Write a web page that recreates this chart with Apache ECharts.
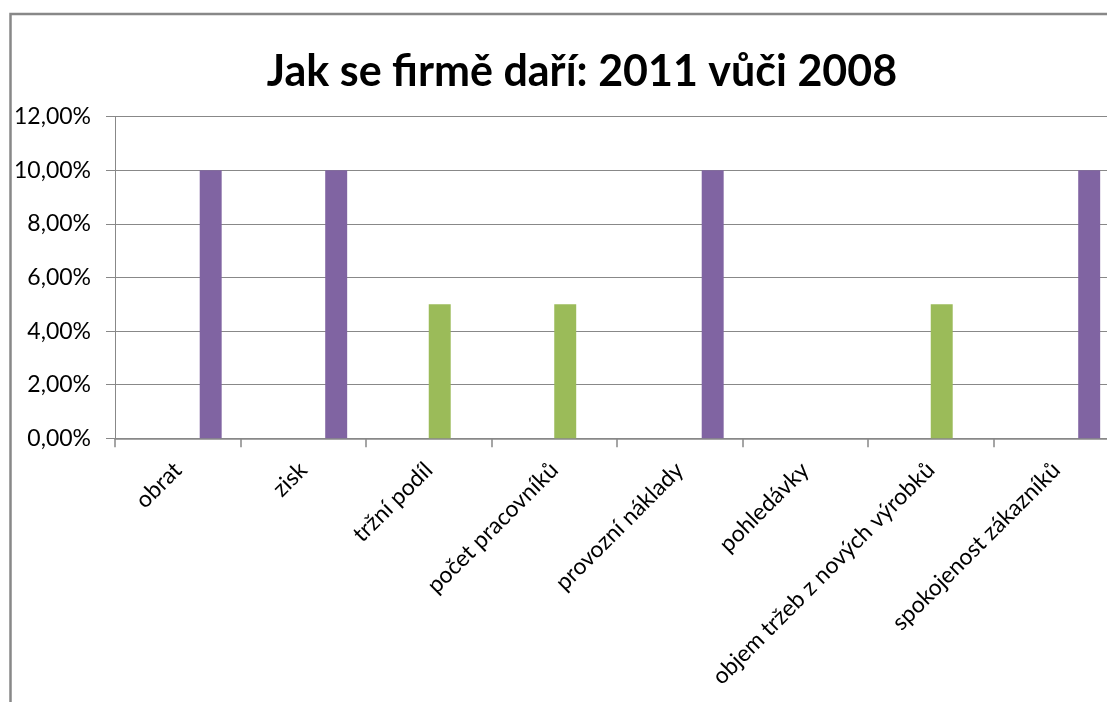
<!DOCTYPE html>
<html>
<head>
<meta charset="utf-8">
<script src="https://cdn.jsdelivr.net/npm/echarts@6/dist/echarts.min.js"></script>
<style>html,body{margin:0;padding:0;background:#fff;overflow:hidden;width:1107px;height:702px;}#c{width:1130px;height:702px;}</style>
</head>
<body>
<div id="c"></div>
<script>
const titleText = 'Jak se firmě daří: 2011 vůči 2008';
const categories = ['obrat', 'zisk', 'tržní podíl', 'počet pracovníků', 'provozní náklady', 'pohledávky', 'objem tržeb z nových výrobků', 'spokojenost zákazníků'];
const seriesNames = ['Řada1', 'Řada2', 'Řada3', 'Řada4'];
const series1 = [null, null, null, null, null, null, null, null];
const series2 = [null, null, null, null, null, null, null, null];
const series3 = [null, null, 5, 5, null, null, 5, null];
const series4 = [10, 10, null, null, 10, null, null, 10];
const yTicks = [0, 2, 4, 6, 8, 10, 12];
const colors = ['#4F81BD', '#C0504D', '#9BBB59', '#8064A2'];

const chart = echarts.init(document.getElementById('c'), null, {renderer: 'canvas'});
const seriesData = [series1, series2, series3, series4];
chart.setOption({
  animation: false,
  backgroundColor: '#fff',
  graphic: [
    {type: 'rect', shape: {x: 10.5, y: 14, width: 1200, height: 800}, style: {fill: 'none', stroke: '#888', lineWidth: 2.5}, silent: true},
    {type: 'text', x: 582, y: 72, style: {text: titleText, align: 'center', verticalAlign: 'middle', font: 'bold 43px Lato, "Open Sans", sans-serif', fill: '#000'}}
  ],
  grid: {left: 115, top: 116.7, right: 11, height: 321.6, containLabel: false},
  xAxis: {
    type: 'category',
    data: categories,
    boundaryGap: true,
    axisLine: {lineStyle: {color: '#888', width: 1.5}},
    axisTick: {show: true, length: 9, lineStyle: {color: '#888', width: 1.5}},
    axisLabel: {rotate: 45, margin: 28, interval: 0, color: '#000', fontFamily: 'Lato, "Open Sans", sans-serif', fontSize: 23}
  },
  yAxis: {
    type: 'value',
    min: yTicks[0],
    max: yTicks[yTicks.length - 1],
    interval: 2,
    axisLine: {show: true, lineStyle: {color: '#888', width: 1}},
    axisTick: {show: true, length: 9, lineStyle: {color: '#888', width: 1}},
    splitLine: {show: true, lineStyle: {color: '#888', width: 1.2}},
    axisLabel: {margin: 24, color: '#000', fontFamily: 'Lato, "Open Sans", sans-serif', fontSize: 23,
      formatter: v => v.toFixed(2).replace('.', ',') + '%'}
  },
  series: seriesData.map((d, i) => ({
    name: seriesNames[i],
    type: 'bar',
    data: d,
    barGap: '0%',
    barCategoryGap: '30%',
    itemStyle: {color: colors[i]}
  }))
});
</script>
</body>
</html>
